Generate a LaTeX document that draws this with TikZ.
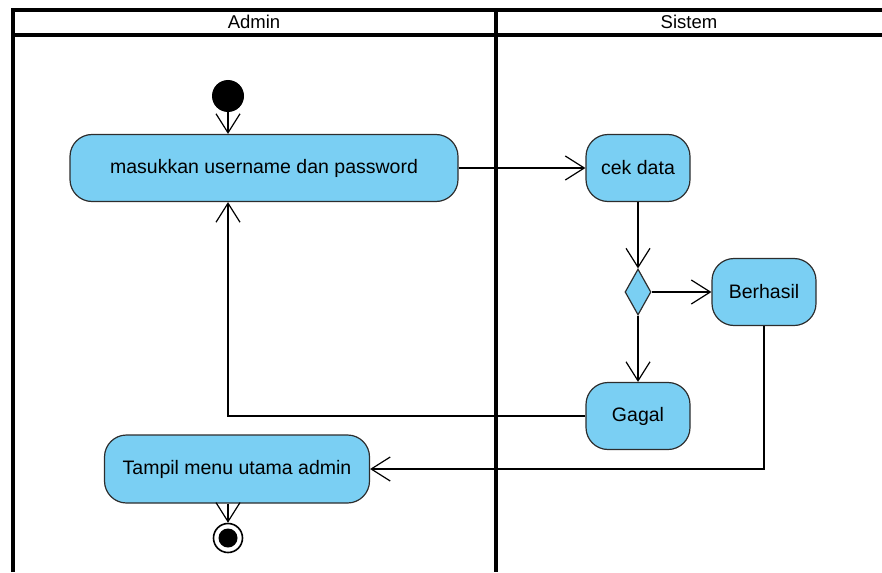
\documentclass[tikz,border=0pt]{standalone}
\usepackage{fontspec}
\setmainfont{Liberation Sans}
\usetikzlibrary{arrows.meta,shapes.geometric}
\definecolor{ActBlue}{RGB}{122, 207, 243}
\definecolor{ActLine}{RGB}{45, 45, 45}

\begin{document}
\begin{tikzpicture}[x=1pt, y=-1pt,
  action/.style={draw=ActLine, line width=1.2pt, fill=ActBlue, rounded corners=22pt,
    inner sep=0pt, font=\fontsize{19.5}{22}\selectfont},
  flow/.style={line width=1.2pt, -{Straight Barb[length=19pt, width=24pt, line width=1.2pt]}},
  lane/.style={line width=3.2pt},
  lanetitle/.style={font=\fontsize{18.5}{20}\selectfont}]

\useasboundingbox (0,0) rectangle (882,572);

% Swimlanes
\draw[lane] (13,572) -- (13,10) -- (882,10);
\draw[lane] (13,35) -- (882,35);
\draw[lane] (496,10) -- (496,572);
\node[lanetitle] (admin) at (254,22) {Admin};
\node[lanetitle] (sistem) at (689,22) {Sistem};

% Start and end
\node[circle, fill=black, minimum size=32pt, inner sep=0pt] (start) at (228,96) {};
\node[circle, draw=black, line width=1.6pt, fill=white, minimum size=29pt, inner sep=0pt] (end) at (228,538) {};
\fill (end.center) circle (9.5pt);

% Actions
\node[action, minimum width=388pt, minimum height=67pt] (masuk) at (264,168) {masukkan username dan password};
\node[action, minimum width=104pt, minimum height=67pt] (cek) at (638,168) {cek data};
\node[draw=ActLine, line width=1.2pt, fill=ActBlue, diamond, minimum width=26pt, minimum height=46pt, inner sep=0pt] (cabang) at (638,292) {};
\node[action, minimum width=104pt, minimum height=67pt] (berhasil) at (764,292) {Berhasil};
\node[action, minimum width=104pt, minimum height=67pt] (gagal) at (638,416) {Gagal};
\node[action, minimum width=265pt, minimum height=68pt] (tampil) at (237,469) {Tampil menu utama admin};

% Flows
\draw[flow] (start) -- (start |- masuk.north);
\draw[flow] (masuk) -- (cek);
\draw[flow] (cek) -- (cabang);
\draw[flow] (cabang) -- (berhasil);
\draw[flow] (cabang) -- (gagal);
\draw[flow] (gagal.west) -| (start |- masuk.south);
\draw[flow] (berhasil.south) |- (tampil.east);
\draw[flow] (tampil.south -| end) -- (end);

\end{tikzpicture}
\end{document}
